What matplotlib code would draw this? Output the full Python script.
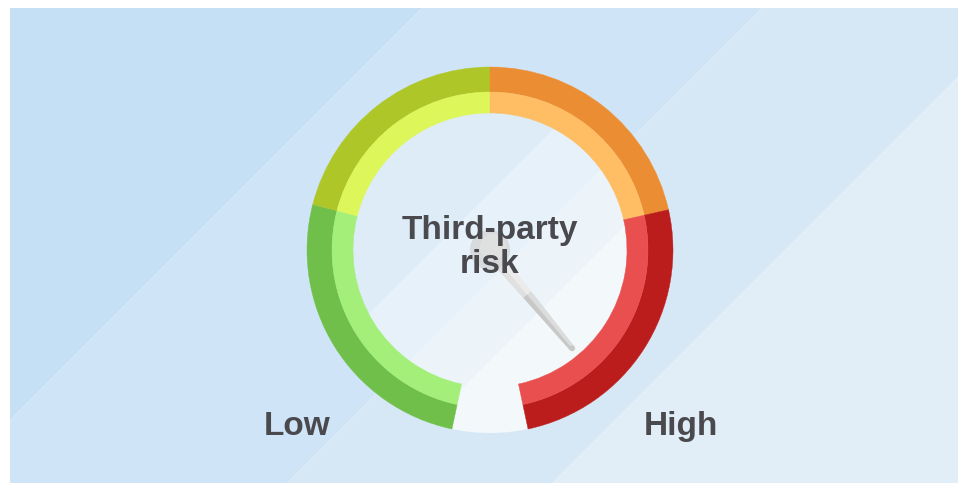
import numpy as np
import matplotlib
matplotlib.use('Agg')
import matplotlib.pyplot as plt
from matplotlib.patches import Wedge, Circle, Polygon, Rectangle

# ── data ─────────────────────────────────────────────────────────
segment_edges = [0, 27.5, 50, 73, 100]   # gauge value boundaries
needle_value = 91.7
title_lines = ['Third-party', 'risk']
low_label, high_label = 'Low', 'High'

# ── style ────────────────────────────────────────────────────────
W, H = 958, 483
CX, CY = 490, H - 250          # gauge centre (y measured upward)
R_OUT, R_MID, R_IN = 183, 158, 137
START_DEG, SPAN_DEG = 258, 336  # value 0 at lower-left, clockwise
DARK = ['#6fbf4a', '#afc628', '#eb8e33', '#bb1c1c']
LIGHT = ['#a3ef7a', '#ddf75a', '#ffbe63', '#ea4f4f']
TEXT = '#4a494e'
FONT = 'Liberation Sans'

BG_CUTS = [430, 770, 1035]                       # stripe edges, x + y(image)
BG_COLS = ['#c5e0f5', '#cfe4f7', '#d6e8f6', '#e1eef8']
FACE_CUTS = [682, 770, 850]
FACE_COLS = ['#ddecf7', '#e6f1f9', '#ecf4fa', '#f3f8fb']


def val2deg(v):
    return START_DEG - SPAN_DEG * v / 100.0


def band(c1, c2):
    # region with c1 < x + y_img < c2, y_img = H - y
    big = 3000
    return [(-big, -big + H - c1), (big, big + H - c1),
            (big, big + H - c2), (-big, -big + H - c2)]


fig = plt.figure(figsize=(W / 100, H / 100), dpi=100, facecolor='white')
ax = fig.add_axes([0, 0, 1, 1])
ax.set_xlim(0, W)
ax.set_ylim(0, H)
ax.axis('off')

# background panel with diagonal stripes
panel = Rectangle((10, 0), W - 10, H - 8, transform=ax.transData)
cuts = [-1e5] + BG_CUTS + [1e5]
for i, col in enumerate(BG_COLS):
    p = Polygon(band(cuts[i], cuts[i + 1]), closed=True, fc=col, ec='none', zorder=0)
    ax.add_patch(p)
    p.set_clip_path(panel)

# gauge face
face = Circle((CX, CY), R_OUT, transform=ax.transData)
cuts = [-1e5] + FACE_CUTS + [1e5]
for i, col in enumerate(FACE_COLS):
    p = Polygon(band(cuts[i], cuts[i + 1]), closed=True, fc=col, ec='none', zorder=1)
    ax.add_patch(p)
    p.set_clip_path(face)

# coloured bands
for i in range(len(segment_edges) - 1):
    t1, t2 = val2deg(segment_edges[i + 1]), val2deg(segment_edges[i])
    ax.add_patch(Wedge((CX, CY), R_OUT, t1, t2, width=R_OUT - R_MID,
                       fc=DARK[i], ec=DARK[i], lw=0.3, zorder=2))
    ax.add_patch(Wedge((CX, CY), R_MID, t1, t2, width=R_MID - R_IN,
                       fc=LIGHT[i], ec=LIGHT[i], lw=0.3, zorder=2))

# needle
th = np.radians(val2deg(needle_value))
u = np.array([np.cos(th), np.sin(th)])
n = np.array([-np.sin(th), np.cos(th)])
c = np.array([CX, CY])
L, w0, w1 = 128, 7.0, 3.0
tip = c + u * L
ax.add_patch(Polygon([c + n * w0, tip + n * w1, tip, c], fc='#dcdcdc', ec='none', zorder=3))
ax.add_patch(Polygon([c, tip, tip - n * w1, c - n * w0], fc='#c8c8c8', ec='none', zorder=3))
ax.add_patch(Circle(tip, w1, fc='#c8c8c8', ec='none', zorder=3))
mid = c + u * 58
wm = w0 + (w1 - w0) * 58 / L
ax.add_patch(Polygon([c + n * w0, mid + n * wm, mid - n * wm, c - n * w0],
                     fc='white', alpha=0.45, ec='none', zorder=3.1))

# hub
ax.add_patch(Circle((CX, CY), 20, fc='#d4d4d4', alpha=0.75, ec='none', zorder=3.2))
ax.add_patch(Circle((CX + 3, CY + 3), 13, fc='#e2e2e2', alpha=0.8, ec='none', zorder=3.3))

# labels
for txt, x, y in [(title_lines[0], CX, 239), (title_lines[1], CX, 273),
                  (low_label, 297, 435), (high_label, 681, 435)]:
    ax.text(x, H - y, txt, ha='center', va='baseline', fontsize=24,
            fontweight='bold', color=TEXT, family=FONT, zorder=5)

fig.savefig('out.png', dpi=100, facecolor='white')
